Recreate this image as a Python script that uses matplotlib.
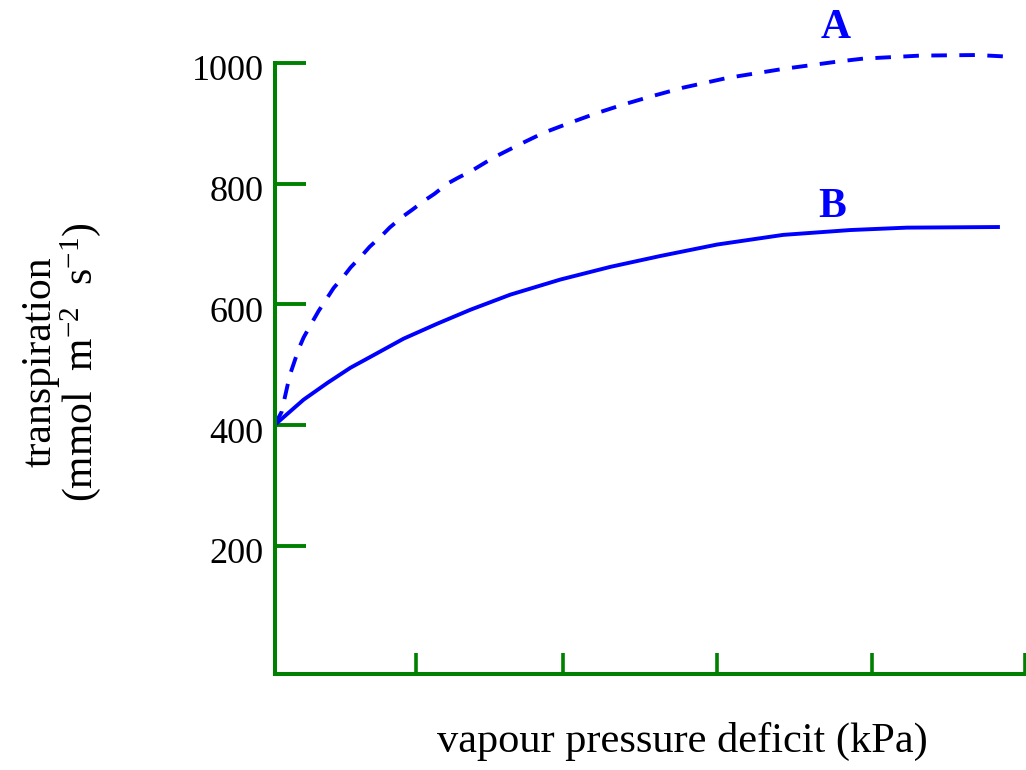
import matplotlib
matplotlib.use('Agg')
from matplotlib import pyplot as plt
from matplotlib.transforms import ScaledTranslation

plt.rcParams['font.family'] = ['Liberation Serif', 'DejaVu Serif']
plt.rcParams['mathtext.fontset'] = 'custom'
plt.rcParams['mathtext.rm'] = 'Liberation Serif'
plt.rcParams['mathtext.default'] = 'regular'

GREEN = '#008000'
BLUE = '#0000FF'

# curve A (dashed)
vpd_a = [0.0, 0.047, 0.067, 0.087, 0.107, 0.133, 0.160, 0.193, 0.240, 0.293,
         0.346, 0.393, 0.459, 0.506, 0.586, 0.632, 0.719, 0.766, 0.852, 0.919,
         0.999, 1.065, 1.152, 1.225, 1.305, 1.458, 1.625, 1.791, 1.971, 2.150,
         2.324, 2.503, 2.723, 3.016, 3.389, 3.748, 3.921, 4.301, 4.680, 4.913]
trans_a = [400, 422, 445, 467, 487, 506, 526, 545, 566, 589,
           609, 627, 646, 661, 682, 695, 715, 727, 745, 757,
           772, 783, 800, 810, 820, 843, 864, 884, 901, 917,
           931, 944, 959, 975, 990, 1002, 1007, 1012, 1013, 1010]

# curve B (solid)
vpd_b = [0.0, 0.193, 0.353, 0.506, 0.639, 0.859, 1.085, 1.305, 1.571, 1.904,
         2.237, 2.570, 2.949, 3.389, 3.835, 4.214, 4.820]
trans_b = [400, 442, 470, 495, 513, 543, 568, 591, 616, 641,
           662, 680, 699, 715, 723, 727, 728]

y_ticks = [200, 400, 600, 800, 1000]
x_ticks = [0.94, 1.92, 2.95, 3.98, 5.0]

fig = plt.figure(figsize=(10.26, 7.7), dpi=100)
ax = fig.add_axes([0.2677, 0.1251, 0.7313, 0.8403])

ax.plot(vpd_a, trans_a, color=BLUE, lw=2.8, dashes=(4.0, 3.2))
ax.plot(vpd_b, trans_b, color=BLUE, lw=2.8, solid_joinstyle='round')

ax.text(3.735, 1058, 'A', color=BLUE, fontsize=30, fontweight='bold',
        ha='center', va='center')
ax.text(3.715, 761, 'B', color=BLUE, fontsize=30, fontweight='bold',
        ha='center', va='center')

ax.set_xlim(0, 5)
ax.set_ylim(-12, 1060)

for side in ['top', 'right']:
    ax.spines[side].set_visible(False)
for side in ['left', 'bottom']:
    ax.spines[side].set_color(GREEN)
    ax.spines[side].set_linewidth(2.9)
    ax.spines[side].set_capstyle('projecting')
ax.spines['left'].set_bounds(-12, 1000)

ax.set_yticks(y_ticks)
ax.set_xticks(x_ticks)
ax.set_xticklabels([])
ax.tick_params(axis='y', direction='in', length=22, width=2.8, color=GREEN,
               pad=8, labelsize=26)
ax.tick_params(axis='x', direction='in', length=15, width=2.6, color=GREEN)

# numbers sit a little below their ticks in the original
shift = ScaledTranslation(0, -5 / 100, fig.dpi_scale_trans)
for t in ax.yaxis.get_major_ticks():
    t.label1.set_transform(t.label1.get_transform() + shift)

ax.set_xlabel('vapour pressure deficit (kPa)', fontsize=30.5)
ax.xaxis.set_label_coords(0.543, -0.105)
ax.xaxis.label.set_va('center')

ax.set_ylabel('transpiration\n(mmol  m$^{-2}$  s$^{-1}$)', fontsize=30,
              linespacing=0.95)
ax.yaxis.set_label_coords(-0.283, 0.482)
ax.yaxis.label.set_va('center')

fig.savefig('out.png', dpi=100)
